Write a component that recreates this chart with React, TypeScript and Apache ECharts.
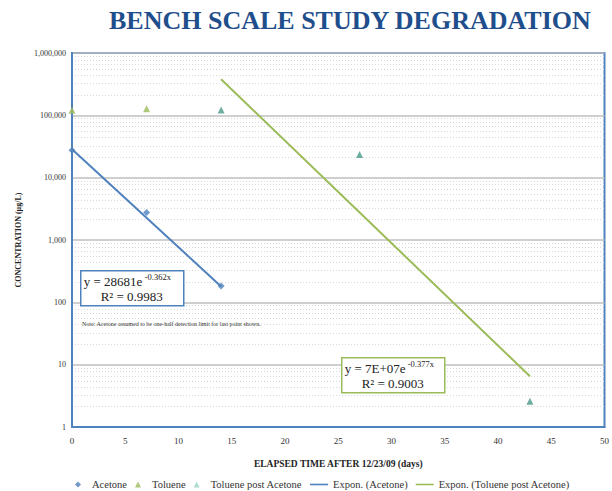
import React, { useEffect, useRef } from "react";
import * as echarts from "echarts";

const acetone: [number, number][] = [[0, 27500], [7, 2750], [14, 182]];
const toluene: [number, number][] = [[0, 121000], [7, 127000]];
const toluenePost: [number, number][] = [[14, 122000], [27, 23500], [43, 2.6]];
const trendAcetone: [number, number][] = [[0, 28681], [14, 180]];
const trendTolPost: [number, number][] = [[14, 380000], [43, 6.5]];
const seriesNames = ["Acetone", "Toluene", "Toluene post Acetone", "Expon. (Acetone)", "Expon. (Toluene post Acetone)"];

const BLUE = "#4F81BD";
const GREEN = "#9BBB59";
const TEAL = "#4A9A88";
const SERIF = "'Liberation Serif', 'DejaVu Serif', serif";

const LINE_ICON = "path://M0,0 L18,0 L18,1.6 L0,1.6 Z";
const DIAMOND_ICON = "path://M3,0 L6,3 L3,6 L0,3 Z";
const TRI_ICON = "path://M3,0 L6,6 L0,6 Z";

function eqBox(left: number, top: number, color: string, main: string, sup: string, r2: string, supX: number) {
  return {
    type: "group",
    left,
    top,
    z: 100,
    children: [
      { type: "rect", z: 100, shape: { x: 0, y: 0, width: 103, height: 35 }, style: { fill: "#fff", stroke: color, lineWidth: 1.5 } },
      { type: "text", z: 101, x: 3, y: 4, style: { text: main, fontFamily: SERIF, fontSize: 13, fill: "#222" } },
      { type: "text", z: 101, x: supX, y: 2, style: { text: sup, fontFamily: SERIF, fontSize: 8.5, fill: "#222" } },
      { type: "text", z: 101, x: 51, y: 19, style: { text: r2, align: "center", fontFamily: SERIF, fontSize: 13, fill: "#222" } },
    ],
  };
}

export default function App() {
  const ref = useRef<HTMLDivElement>(null);
  useEffect(() => {
    const chart = echarts.init(ref.current!, null, { renderer: "svg" });
    chart.setOption({
      animation: false,
      backgroundColor: "#fff",
      title: {
        text: "BENCH SCALE STUDY DEGRADATION",
        left: 104,
        top: 2,
        textStyle: { fontFamily: SERIF, fontSize: 26, fontWeight: "bold", color: "#1F4E8C" },
      },
      grid: { left: 72, right: 7, top: 53, bottom: 64, show: true, borderColor: BLUE, borderWidth: 2, backgroundColor: "#fff" },
      xAxis: {
        type: "value",
        min: 0,
        max: 50,
        interval: 5,
        name: "ELAPSED TIME AFTER 12/23/09 (days)",
        nameLocation: "middle",
        nameGap: 32,
        nameTextStyle: { fontFamily: SERIF, fontSize: 9.5, fontWeight: "bold", color: "#222" },
        axisLine: { show: true, lineStyle: { color: BLUE, width: 2 } },
        axisTick: { show: false },
        axisLabel: { fontFamily: SERIF, fontSize: 9, color: "#333", margin: 9 },
        splitLine: { show: false },
      },
      yAxis: {
        type: "log",
        logBase: 10,
        min: 1,
        max: 1000000,
        name: "CONCENTRATION (µg/L)",
        nameLocation: "middle",
        nameRotate: 90,
        nameGap: 50,
        nameTextStyle: { fontFamily: SERIF, fontSize: 8, fontWeight: "bold", color: "#222" },
        axisLine: { show: true, lineStyle: { color: BLUE, width: 2 } },
        axisTick: { show: false },
        axisLabel: {
          fontFamily: SERIF,
          fontSize: 8,
          color: "#333",
          margin: 6,
          formatter: (v: number) => Math.round(v).toLocaleString("en-US"),
        },
        splitLine: { show: true, lineStyle: { color: "#BFBFBF", width: 1.5 } },
        minorTick: { show: false, splitNumber: 8 },
        minorSplitLine: { show: true, lineStyle: { color: "#D9D9D9", type: [1, 2], width: 1 } },
      },
      legend: {
        left: 70,
        top: 474,
        itemGap: 8,
        itemWidth: 18,
        itemHeight: 6,
        symbolKeepAspect: true,
        textStyle: { fontFamily: SERIF, fontSize: 10.5, color: "#333" },
        data: [
          { name: seriesNames[0], icon: DIAMOND_ICON, itemStyle: { color: BLUE } },
          { name: seriesNames[1], icon: TRI_ICON, itemStyle: { color: GREEN } },
          { name: seriesNames[2], icon: TRI_ICON, itemStyle: { color: "#9fd3c7" } },
          { name: seriesNames[3], icon: LINE_ICON, itemStyle: { color: BLUE } },
          { name: seriesNames[4], icon: LINE_ICON, itemStyle: { color: GREEN } },
        ],
      },
      graphic: [
        eqBox(80, 270, BLUE, "y = 28681e", "-0.362x", "R² = 0.9983", 64),
        {
          type: "text",
          left: 82,
          top: 321,
          z: 100,
          style: {
            text: "Note: Acetone assumed to be one-half detection limit for last point shown.",
            fontFamily: SERIF,
            fontSize: 6,
            fill: "#333",
          },
        },
        eqBox(341, 357, GREEN, "y = 7E+07e", "-0.377x", "R² = 0.9003", 66),
      ],
      series: [
        { name: seriesNames[0], type: "scatter", data: acetone, symbol: "diamond", symbolSize: 7, itemStyle: { color: BLUE }, z: 5 },
        { name: seriesNames[1], type: "scatter", data: toluene, symbol: "triangle", symbolSize: 7, itemStyle: { color: GREEN }, z: 5 },
        { name: seriesNames[2], type: "scatter", data: toluenePost, symbol: "triangle", symbolSize: 7, itemStyle: { color: TEAL }, z: 5 },
        { name: seriesNames[3], type: "line", data: trendAcetone, showSymbol: false, lineStyle: { color: BLUE, width: 2 }, itemStyle: { color: BLUE }, z: 3 },
        { name: seriesNames[4], type: "line", data: trendTolPost, showSymbol: false, lineStyle: { color: GREEN, width: 2 }, itemStyle: { color: GREEN }, z: 3 },
      ],
    });
    return () => chart.dispose();
  }, []);
  return <div ref={ref} style={{ width: 612, height: 491, position: "absolute", left: 0, top: 0 }} />;
}
